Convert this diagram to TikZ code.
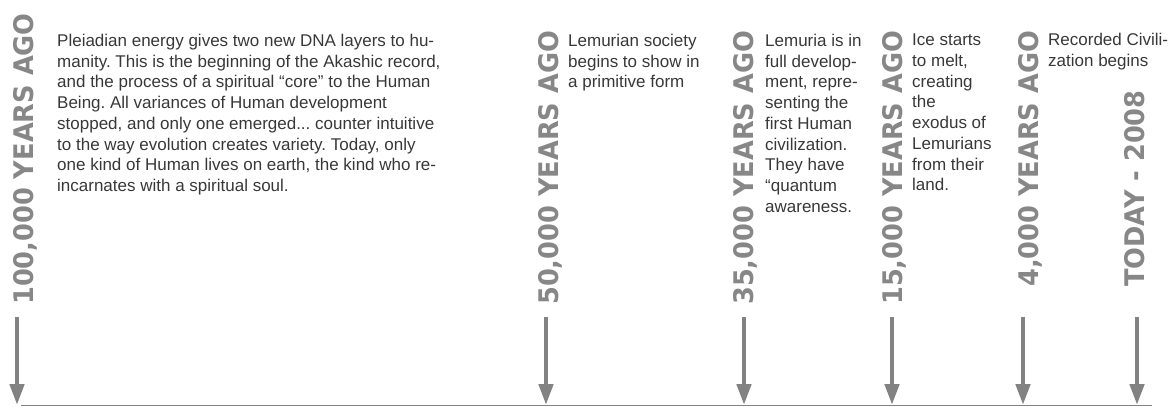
\documentclass[tikz,border=0pt]{standalone}
\usepackage{fontspec}
\setmainfont{Liberation Sans}
\newfontfamily\yearfont[FakeStretch=0.95]{DejaVu Sans Bold}
\usetikzlibrary{arrows.meta}

\definecolor{arrowgray}{HTML}{828282}
\definecolor{labelgray}{HTML}{878787}
\definecolor{textgray}{HTML}{383838}

\tikzset{
    yearlabel/.style={rotate=90, anchor=base west, inner sep=0pt,
        text=labelgray, font=\yearfont\fontsize{27}{27}\selectfont},
    eventtext/.style={anchor=north west, inner sep=0pt, align=left,
        text=textgray, font=\fontsize{17}{20.7}\selectfont\frenchspacing},
    timearrow/.style={draw=arrowgray, line width=4.5pt,
        -{Triangle[length=21pt,width=14pt]}}
}

\begin{document}
\begin{tikzpicture}[x=1pt,y=-1pt]
        \useasboundingbox (0,0) rectangle (1171,407);

        \coordinate (T100) at (17,317);
        \coordinate (B100) at (17,405);
        \coordinate (T50) at (546,317);
        \coordinate (B50) at (546,405);
        \coordinate (T35) at (744,317);
        \coordinate (B35) at (744,405);
        \coordinate (T15) at (892,317);
        \coordinate (B15) at (892,405);
        \coordinate (T4) at (1023,317);
        \coordinate (B4) at (1023,405);
        \coordinate (Tnow) at (1137,317);
        \coordinate (Bnow) at (1137,405);

        \coordinate (L1) at (21,405.5);
        \coordinate (L2) at (1152,405.5);

        \draw[arrowgray, line width=1.5pt] (L1) -- (L2); % time axis
        \draw[timearrow] (T100) -- (B100);
        \draw[timearrow] (T50) -- (B50);
        \draw[timearrow] (T35) -- (B35);
        \draw[timearrow] (T15) -- (B15);
        \draw[timearrow] (T4) -- (B4);
        \draw[timearrow] (Tnow) -- (Bnow);

        \node[yearlabel] (Y100) at (33,305) {100,000 YEARS AGO};
        \node[yearlabel] (Y50) at (558,305) {50,000 YEARS AGO};
        \node[yearlabel] (Y35) at (753,305) {35,000 YEARS AGO};
        \node[yearlabel] (Y15) at (902,305) {15,000 YEARS AGO};
        \node[yearlabel] (Y4) at (1038,287) {4,000 YEARS AGO};
        \node[yearlabel] (Ynow) at (1144,287) {TODAY - 2008};

        \node[eventtext] (E100) at (57,34) {Pleiadian energy gives two new DNA layers to hu-\\
            manity. This is the beginning of the Akashic record,\\
            and the process of a spiritual “core” to the Human\\
            Being. All variances of Human development\\
            stopped, and only one emerged... counter intuitive\\
            to the way evolution creates variety. Today, only\\
            one kind of Human lives on earth, the kind who re-\\
            incarnates with a spiritual soul.};
        \node[eventtext] (E50) at (568,34) {Lemurian society\\
            begins to show in\\
            a primitive form};
        \node[eventtext] (E35) at (765,34) {Lemuria is in\\
            full develop-\\
            ment, repre-\\
            senting the\\
            first Human\\
            civilization.\\
            They have\\
            “quantum\\
            awareness.};
        \node[eventtext] (E15) at (912,34) {Ice starts\\
            to melt,\\
            creating\\
            the\\
            exodus of\\
            Lemurians\\
            from their\\
            land.};
        \node[eventtext] (E4) at (1048,33) {Recorded Civili-\\
            zation begins};

    \end{tikzpicture}
\end{document}
